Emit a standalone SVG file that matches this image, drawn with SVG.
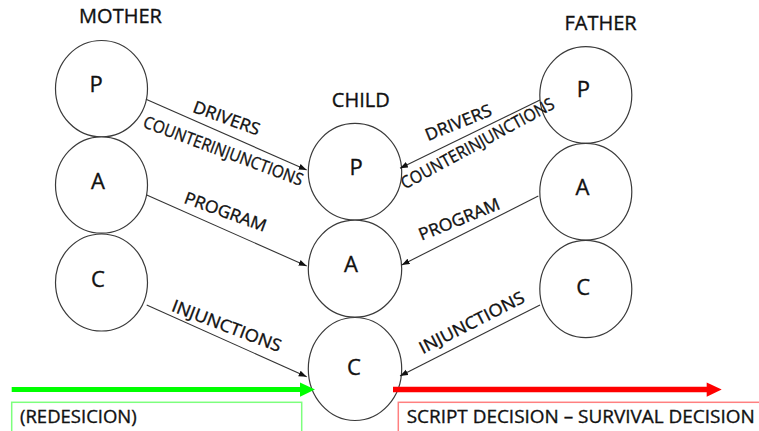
<svg xmlns="http://www.w3.org/2000/svg" width="759" height="431" viewBox="0 0 759 431">
<style>
.node{fill:#fff;stroke:#3a3a3a;stroke-width:1.2}
text{font-family:"Open Sans","DejaVu Sans",sans-serif;fill:#111;stroke:#111;stroke-width:0.35}
.nl{font-size:22px;text-anchor:middle}
.hd{font-size:20px;text-anchor:middle}
.el{font-size:17px;text-anchor:middle}
.bl{font-size:19px}
.conn{stroke:#333;stroke-width:1.1;fill:none;marker-end:url(#ah)}
</style>
<defs>
<marker id="ah" markerUnits="userSpaceOnUse" markerWidth="9" markerHeight="7" refX="8" refY="3" orient="auto">
<path d="M0,0 L8,3 L0,6 z" fill="#111"/>
</marker>
</defs>
<rect width="759" height="431" fill="#fff"/>

<text class="hd" x="120.5" y="23">MOTHER</text>
<text class="hd" x="360.8" y="107">CHILD</text>
<text class="hd" x="600.5" y="30">FATHER</text>

<g id="mother-p"><ellipse class="node" cx="101.5" cy="88.7" rx="46" ry="48.2"/><text class="nl" x="96" y="91.5">P</text></g>
<g id="mother-a"><ellipse class="node" cx="101.5" cy="185" rx="46" ry="48.2"/><text class="nl" x="98" y="188.5">A</text></g>
<g id="mother-c"><ellipse class="node" cx="101.5" cy="282.5" rx="46" ry="48.5"/><text class="nl" x="98" y="286.5">C</text></g>

<g id="child-p"><ellipse class="node" cx="355" cy="171.7" rx="46.7" ry="48.3"/><text class="nl" x="356" y="175">P</text></g>
<g id="child-a"><ellipse class="node" cx="355" cy="268.7" rx="46.7" ry="48.5"/><text class="nl" x="351" y="271.5">A</text></g>
<g id="child-c"><ellipse class="node" cx="355" cy="369" rx="46.7" ry="51.5"/><text class="nl" x="354" y="375">C</text></g>

<g id="father-p"><ellipse class="node" cx="585.8" cy="95" rx="46" ry="48.3"/><text class="nl" x="583.3" y="96.7">P</text></g>
<g id="father-a"><ellipse class="node" cx="585.8" cy="191.7" rx="46" ry="48.3"/><text class="nl" x="582.5" y="195">A</text></g>
<g id="father-c"><ellipse class="node" cx="585.8" cy="289" rx="46" ry="48.7"/><text class="nl" x="583.3" y="295">C</text></g>

<g id="connectors">
<line class="conn" x1="146" y1="99.3" x2="306.7" y2="170"/>
<line class="conn" x1="146.7" y1="195" x2="306.7" y2="266"/>
<line class="conn" x1="146.7" y1="305" x2="306.7" y2="376.7"/>
<line class="conn" x1="540" y1="100" x2="400" y2="168.3"/>
<line class="conn" x1="538.3" y1="196" x2="401.7" y2="265"/>
<line class="conn" x1="540" y1="305" x2="400" y2="376"/>
<text class="el" transform="translate(226.7,118) rotate(20)" x="0" y="6" textLength="70" lengthAdjust="spacingAndGlyphs">DRIVERS</text>
<text class="el" transform="translate(223.3,150.8) rotate(20.5)" x="0" y="6" textLength="169" lengthAdjust="spacingAndGlyphs">COUNTERINJUNCTIONS</text>
<text class="el" transform="translate(225.5,211.7) rotate(20)" x="0" y="6" textLength="86" lengthAdjust="spacingAndGlyphs">PROGRAM</text>
<text class="el" transform="translate(226.7,325.8) rotate(21)" x="0" y="6" textLength="116" lengthAdjust="spacingAndGlyphs">INJUNCTIONS</text>
<text class="el" transform="translate(458.3,122.5) rotate(-22)" x="0" y="6" textLength="70" lengthAdjust="spacingAndGlyphs">DRIVERS</text>
<text class="el" transform="translate(477.5,143.3) rotate(-28.5)" x="0" y="6" textLength="172" lengthAdjust="spacingAndGlyphs">COUNTERINJUNCTIONS</text>
<text class="el" transform="translate(459.2,219.2) rotate(-22)" x="0" y="6" textLength="86" lengthAdjust="spacingAndGlyphs">PROGRAM</text>
<text class="el" transform="translate(471.7,322.5) rotate(-27)" x="0" y="6" textLength="116" lengthAdjust="spacingAndGlyphs">INJUNCTIONS</text>
</g>

<g id="redecision">
<line x1="11.7" y1="389.6" x2="301" y2="389.6" stroke="#00ff00" stroke-width="5"/>
<polygon points="300,382.5 315,389.6 300,396.7" fill="#00ff00"/>
<rect x="11.7" y="402.3" width="290" height="40" fill="none" stroke="#7dff7d" stroke-width="1.5"/>
<text class="bl" x="20" y="423" textLength="116.7" lengthAdjust="spacingAndGlyphs">(REDESICION)</text>
</g>
<g id="script-decision">
<line x1="393" y1="389.6" x2="708" y2="389.6" stroke="#ff0000" stroke-width="5.5"/>
<polygon points="706.7,382.5 721.7,389.6 706.7,396.7" fill="#ff0000"/>
<rect x="398.3" y="402.3" width="380" height="40" fill="none" stroke="#ff8080" stroke-width="1.5"/>
<text class="bl" x="406.7" y="423.3" textLength="348" lengthAdjust="spacingAndGlyphs">SCRIPT DECISION – SURVIVAL DECISION</text>
</g>
</svg>
